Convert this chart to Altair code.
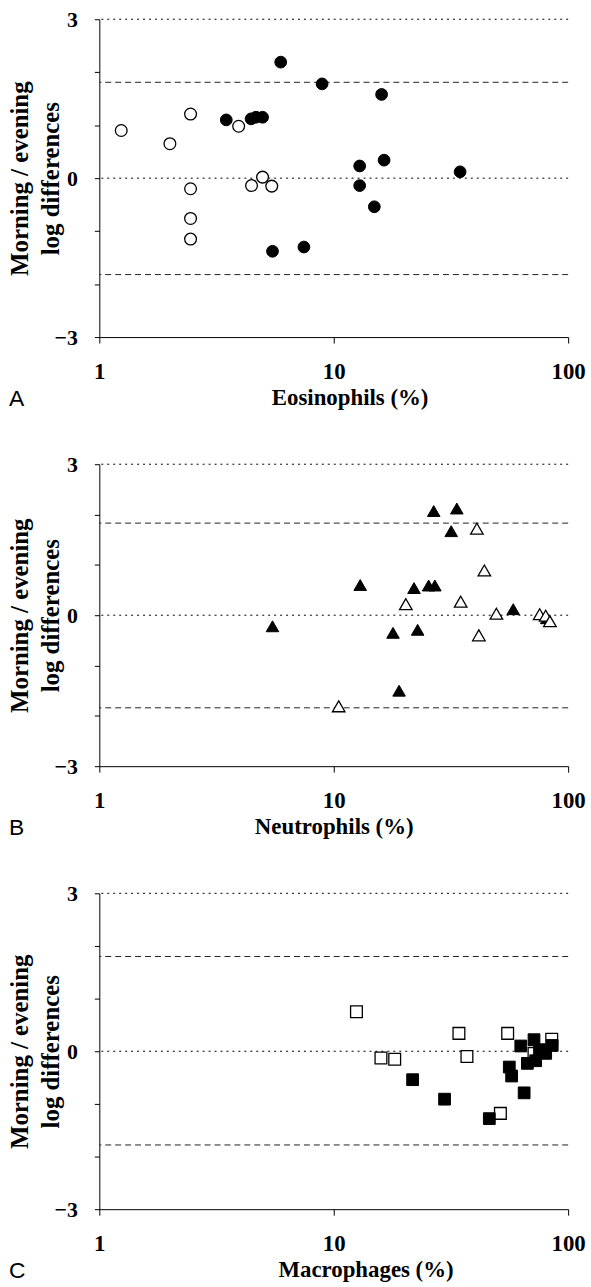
import altair as alt
import pandas as pd

# ---------------- data ----------------
# Panel A: eosinophils (circles)
eos_filled_x = [5.94, 3.48, 4.44, 4.66, 4.97, 5.48, 7.46, 8.92, 16.0, 12.9, 16.4, 34.6, 12.9, 14.9]
eos_filled_y = [2.19, 1.10, 1.12, 1.15, 1.15, -1.38, -1.30, 1.78, 1.58, 0.23, 0.34, 0.12, -0.14, -0.54]
eos_open_x = [1.24, 2.0, 2.45, 3.93, 2.45, 2.45, 2.45, 4.46, 4.97, 5.44]
eos_open_y = [0.90, 0.65, 1.21, 0.98, -0.20, -0.76, -1.15, -0.14, 0.02, -0.15]

# Panel B: neutrophils (triangles)
neu_filled_x = [5.48, 12.97, 26.7, 33.5, 31.7, 22.0, 25.4, 27.0, 58.3, 17.9, 22.8, 19.0, 81.0]
neu_filled_y = [-0.22, 0.60, 2.07, 2.12, 1.67, 0.54, 0.59, 0.59, 0.12, -0.35, -0.29, -1.50, -0.06]
neu_open_x = [10.5, 40.8, 43.9, 20.3, 34.8, 49.4, 41.6, 75.6, 80.2, 83.6]
neu_open_y = [-1.81, 1.72, 0.89, 0.22, 0.27, 0.03, -0.40, 0.02, -0.01, -0.12]

# Panel C: macrophages (squares)
mac_filled_x = [21.7, 29.7, 46.1, 64.9, 56.1, 57.4, 62.8, 71.5, 80.2, 85.5, 67.0, 72.7, 75.5]
mac_filled_y = [-0.54, -0.91, -1.28, -0.79, -0.30, -0.47, 0.10, 0.22, -0.04, 0.11, -0.23, -0.18, 0.03]
mac_open_x = [12.5, 15.9, 18.2, 34.2, 37.0, 55.2, 51.4, 85.1, 71.5]
mac_open_y = [0.75, -0.13, -0.15, 0.34, -0.10, 0.34, -1.18, 0.23, -0.04]

dotted_levels = [3, 0]
dashed_a = [1.81, -1.82]
dashed_b = [1.83, -1.84]
dashed_c = [1.80, -1.78]

x_ticks = [1, 10, 100]
y_ticks = [-3, -2, -1, 0, 1, 2, 3]
y_title = ["Morning / evening", "log differences"]

SERIF = "Liberation Serif"


def panel(fx, fy, ox, oy, shape, size, xtitle, xtitle_x, letter, height, dashed, open_on_top=True):
    xs = alt.Scale(type="log", domain=[1, 100])
    ys = alt.Scale(domain=[-3, 3], nice=False, zero=False)
    xaxis = alt.Axis(
        values=x_ticks, format="d", title=xtitle, grid=False,
        labelFont=SERIF, labelFontSize=23, labelFontWeight="bold", labelColor="black",
        titleFont=SERIF, titleFontSize=23, titleFontWeight="bold", titleColor="black",
        tickSize=6, tickColor="black", domainColor="black", labelFlush=False,
        labelPadding=18, titlePadding=3, titleX=xtitle_x,
    )
    yaxis = alt.Axis(
        values=y_ticks, labelExpr="datum.value % 3 == 0 ? datum.label : ''",
        title=y_title, grid=False, labelFlush=False,
        labelFont=SERIF, labelFontSize=22, labelFontWeight="bold", labelColor="black",
        titleFont=SERIF, titleFontSize=25, titleFontWeight="bold", titleColor="black",
        titleX=-72, titleBaseline="alphabetic", titleLineHeight=31,
        tickSize=5, tickColor="black", domainColor="black", labelPadding=17,
    )
    filled = pd.DataFrame({"x": fx, "y": fy})
    opened = pd.DataFrame({"x": ox, "y": oy})
    base_enc = dict(x=alt.X("x:Q", scale=xs, axis=xaxis), y=alt.Y("y:Q", scale=ys, axis=yaxis))

    dotted = alt.Chart(pd.DataFrame({"v": dotted_levels})).mark_rule(
        color="black", strokeWidth=1, strokeDash=[2, 4]
    ).encode(y=alt.Y("v:Q", scale=ys, axis=yaxis))
    dash = alt.Chart(pd.DataFrame({"v": dashed})).mark_rule(
        color="#222222", strokeWidth=1, strokeDash=[6, 4]
    ).encode(y=alt.Y("v:Q", scale=ys, axis=yaxis))
    f = alt.Chart(filled).mark_point(
        shape=shape, size=size, filled=True, fill="black", stroke="black", strokeWidth=1, opacity=1
    ).encode(**base_enc)
    o = alt.Chart(opened).mark_point(
        shape=shape, size=size, filled=True, fill="white", stroke="black", strokeWidth=1.3, opacity=1
    ).encode(**base_enc)
    layers = [dotted, dash, f, o] if open_on_top else [dotted, dash, o, f]
    return alt.layer(*layers).properties(
        width=472, height=height,
        title=alt.TitleParams(
            letter, orient="bottom", anchor="start", frame="group", font="Liberation Sans",
            fontSize=23, fontWeight="normal", color="black", dx=-91, offset=-22,
        ),
    )


pa = panel(eos_filled_x, eos_filled_y, eos_open_x, eos_open_y, "circle", 140,
           "Eosinophils (%)", 252, "A", 320, dashed_a)
pb = panel(neu_filled_x, neu_filled_y, neu_open_x, neu_open_y, "triangle-up", 160,
           "Neutrophils (%)", 236, "B", 304, dashed_b)
pc = panel(mac_filled_x, mac_filled_y, mac_open_x, mac_open_y, "square", 140,
           "Macrophages (%)", 268, "C", 318, dashed_c, open_on_top=False)

chart = alt.vconcat(pa, alt.vconcat(pb, pc, spacing=43), spacing=43).properties(
    padding={"left": 8, "top": 4, "right": 5, "bottom": 5}, background="white"
).configure_view(stroke=None)

chart.save("out.html", embed_options={"renderer": "svg", "actions": False})
